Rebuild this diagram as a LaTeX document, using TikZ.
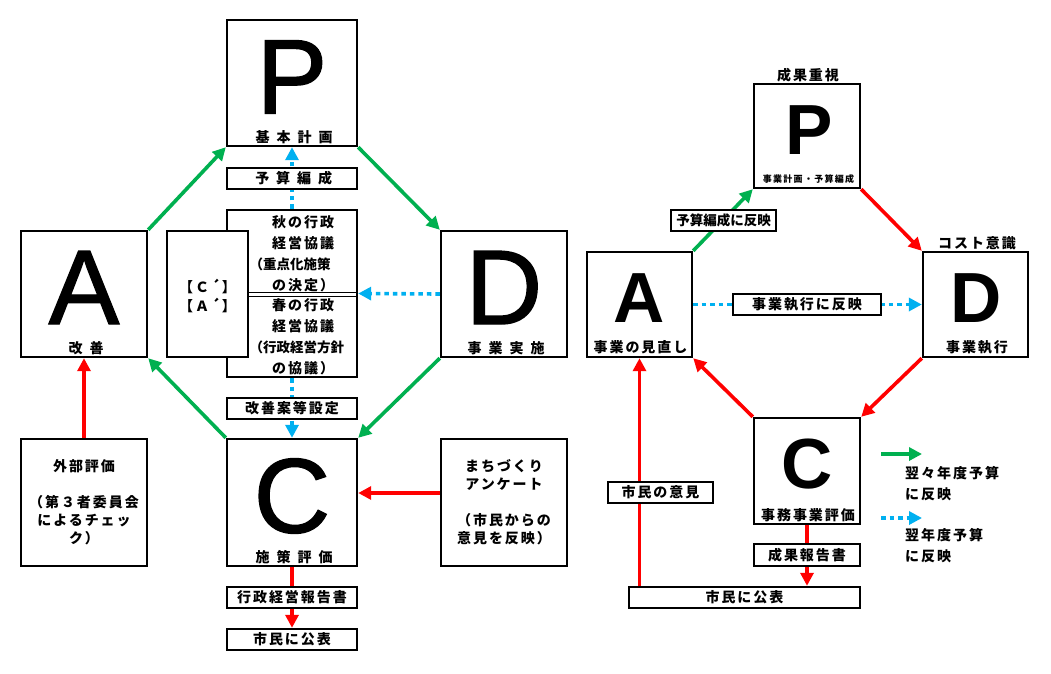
\documentclass[tikz,border=0pt]{standalone}
\usepackage{fontspec}
\setmainfont{Liberation Sans}
\newfontfamily\bigfont[FakeBold=1.3]{Liberation Sans}
\newfontfamily\jp[LetterSpace=14]{Noto Sans CJK JP}
\newfontfamily\jpw[LetterSpace=50]{Noto Sans CJK JP}
\newfontfamily\jpn[LetterSpace=0]{Noto Sans CJK JP}
\usetikzlibrary{arrows.meta}
\pgfdeclarelayer{bg}
\pgfsetlayers{bg,main}
\definecolor{cgreen}{HTML}{00B050}
\definecolor{cred}{HTML}{FF0000}
\definecolor{cblue}{HTML}{00B0F0}
\tikzset{
  box/.style={draw=black, line width=2.4pt, fill=white, inner sep=0pt},
  big/.style={font=\bigfont\fontsize{106}{106}\selectfont, inner sep=0pt, anchor=base},
  bigr/.style={font=\bfseries\fontsize{71}{71}\selectfont, inner sep=0pt, anchor=base},
  lbl/.style={font=\jp\bfseries\fontsize{14}{18}\selectfont, inner sep=0pt},
  lbln/.style={font=\jpn\bfseries\fontsize{13.5}{18}\selectfont, inner sep=0pt},
  lblw/.style={font=\jpw\bfseries\fontsize{14}{18}\selectfont, inner sep=0pt},
  lbls/.style={font=\jp\bfseries\fontsize{9}{9}\selectfont, inner sep=0pt},
  tip/.style={-{Triangle[length=13pt,width=13pt]}},
  garrow/.style={draw=cgreen, line width=3.6pt, tip},
  rline/.style={draw=cred, line width=3.6pt},
  rarrow/.style={rline, tip},
  barrow/.style={draw=cblue, line width=3.6pt, dash pattern=on 4.5pt off 4pt, tip},
}
\begin{document}
\begin{tikzpicture}[x=1pt,y=-1pt]
\useasboundingbox (0,0) rectangle (1051,673);
\begin{pgfonlayer}{bg}
\fill[white] (0,0) rectangle (1051,673);
\end{pgfonlayer}

% ---------- left diagram ----------
\node[box, minimum width=130pt, minimum height=126pt] (P1) at (292,83) {};
\node[big] (P1t) at (292,113.5) {P};
\node[lblw] (P1l) at (294,137) {基本計画};

\node[box, minimum width=126pt, minimum height=126pt] (A1) at (84,294) {};
\node[big] (A1t) at (84,324) {A};
\node[lblw] (A1l) at (86,348) {改善};

\node[box, minimum width=126pt, minimum height=126pt] (D1) at (504,294) {};
\node[big] (D1t) at (504,324) {D};
\node[lblw] (D1l) at (506,348) {事業実施};

\node[box, minimum width=130pt, minimum height=127pt] (C1) at (292,502.5) {};
\node[big] (C1t) at (292,532.5) {C};
\node[lblw] (C1l) at (294,557) {施策評価};

\node[box, lblw, minimum width=130pt, minimum height=21pt] (bud1) at (292,178.5) {\hspace*{3.5pt}予算編成};

\node[box, minimum width=130pt, minimum height=167pt] (mid) at (292,293.5) {};
\node[box, minimum width=81pt, minimum height=126pt] (ca) at (207.5,294) {};
\draw[line width=0.9pt] (ca.east |- 0,292.5) -- (mid.east |- 0,292.5);
\draw[line width=0.9pt] (ca.east |- 0,296) -- (mid.east |- 0,296);
\node[lbl, align=left, anchor=west, font=\jp\bfseries\fontsize{14}{21}\selectfont] (midu) at (249.5,253.5)
  {\hspace*{22.5pt}秋の行政\\\hspace*{22.5pt}経営協議\\{\jpn\bfseries\fontsize{13.5}{21}\selectfont （重点化施策}\\\hspace*{22.5pt}の決定）};
\node[lbl, align=left, anchor=west, font=\jp\bfseries\fontsize{14}{21}\selectfont] (midl) at (249.5,337)
  {\hspace*{22.5pt}春の行政\\\hspace*{22.5pt}経営協議\\{\jpn\bfseries\fontsize{13.5}{21}\selectfont （行政経営方針}\\\hspace*{22.5pt}の協議）};
\node[lbl, align=center, font=\jp\bfseries\fontsize{14}{19}\selectfont] (cat) at (207.5,295.5) {【Ｃ´】\\【Ａ´】};

\node[box, lbl, minimum width=130pt, minimum height=21pt] (kai) at (292,408.5) {改善案等設定};

\node[box, lbl, align=center, minimum width=126pt, minimum height=127pt] (ext) at (84,502.5)
  {外部評価\\[18pt]（第３者委員会\\によるチェッ\\ク）};
\node[box, lbl, align=center, minimum width=126pt, minimum height=127pt] (mati) at (504,502.5)
  {まちづくり\\アンケート\\[18pt]（市民からの\\意見を反映）};

\node[box, lbl, minimum width=130pt, minimum height=21pt] (rep1) at (292,597.5) {行政経営報告書};
\node[box, lbl, minimum width=130pt, minimum height=21pt] (pub1) at (292,639.5) {市民に公表};

\coordinate (mw) at ([yshift=9.5pt]mati.west);

\begin{pgfonlayer}{bg}
\draw[garrow] (A1.north east) -- (P1.south west);
\draw[garrow] (P1.south east) -- (D1.north west);
\draw[garrow] (D1.south west) -- (C1.north east);
\draw[garrow] (C1.north west) -- (A1.south east);
\draw[rarrow] (ext.north) -- (A1.south);
\draw[rarrow] (mw) -- (mw -| C1.east);
\draw[rline] (C1.south) -- (rep1.north);
\draw[rarrow] (rep1.south) -- (pub1.north);
\draw[barrow] (mid.north) -- (P1.south);
\draw[barrow] (D1.west) -- (mid.east);
\draw[barrow] (mid.south) -- (C1.north);
\end{pgfonlayer}

% ---------- right diagram ----------
\node[box, minimum width=106pt, minimum height=104pt] (P2) at (807,136) {};
\node[bigr] (P2t) at (809,154) {P};
\node[lbls] (P2l) at (808.5,179) {事業計画・予算編成};
\node[lbl] (P2h) at (808,75) {成果重視};

\node[box, minimum width=105pt, minimum height=105pt] (A2) at (639.5,304.5) {};
\node[bigr] (A2t) at (639.5,322) {A};
\node[lbl] (A2l) at (640.5,347) {事業の見直し};

\node[box, minimum width=105pt, minimum height=105pt] (D2) at (975.5,304.5) {};
\node[bigr] (D2t) at (976.5,322) {D};
\node[lbl] (D2l) at (977,347) {事業執行};
\node[lbl] (D2h) at (977,243) {コスト意識};

\node[box, minimum width=106pt, minimum height=106pt] (C2) at (807,471) {};
\node[bigr] (C2t) at (807,488) {C};
\node[lbl] (C2l) at (808,515) {事務事業評価};

\node[box, lbln, minimum width=105pt, minimum height=21pt] (bud2) at (723.5,220.5) {予算編成に反映};
\node[box, lbl, minimum width=148pt, minimum height=21pt] (exe2) at (807,304.5) {事業執行に反映};
\node[box, lbl, minimum width=106pt, minimum height=22pt] (rep2) at (807,555) {成果報告書};
\node[box, lbl, minimum width=231pt, minimum height=21pt] (pub2) at (744.5,597.5) {市民に公表};
\node[box, lbl, minimum width=105pt, minimum height=21pt] (op2) at (660.5,492.5) {市民の意見};

\begin{pgfonlayer}{bg}
\draw[garrow] (A2.north east) -- (P2.south west);
\draw[rarrow] (P2.south east) -- (D2.north west);
\draw[rarrow] (D2.south west) -- (C2.north east);
\draw[rarrow] (C2.north west) -- (A2.south east);
\draw[barrow] (A2.east) -- (D2.west);
\draw[rline] (C2.south) -- (rep2.north);
\draw[rarrow] (rep2.south) -- (rep2.south |- pub2.north);
\draw[rarrow] (A2.south |- pub2.north) -- (A2.south);
\end{pgfonlayer}

% ---------- legend ----------
\coordinate (lg1) at (881,454);
\coordinate (lg2) at (922,454);
\coordinate (lb1) at (881,518);
\coordinate (lb2) at (922,518);
\draw[garrow] (lg1) -- (lg2);
\draw[barrow] (lb1) -- (lb2);
\node[lbl, align=left, anchor=west, font=\jp\bfseries\fontsize{14}{21}\selectfont] (lgt1) at (905,483.5) {翌々年度予算\\に反映};
\node[lbl, align=left, anchor=west, font=\jp\bfseries\fontsize{14}{21}\selectfont] (lgt2) at (905,545.5) {翌年度予算\\に反映};
\end{tikzpicture}
\end{document}
